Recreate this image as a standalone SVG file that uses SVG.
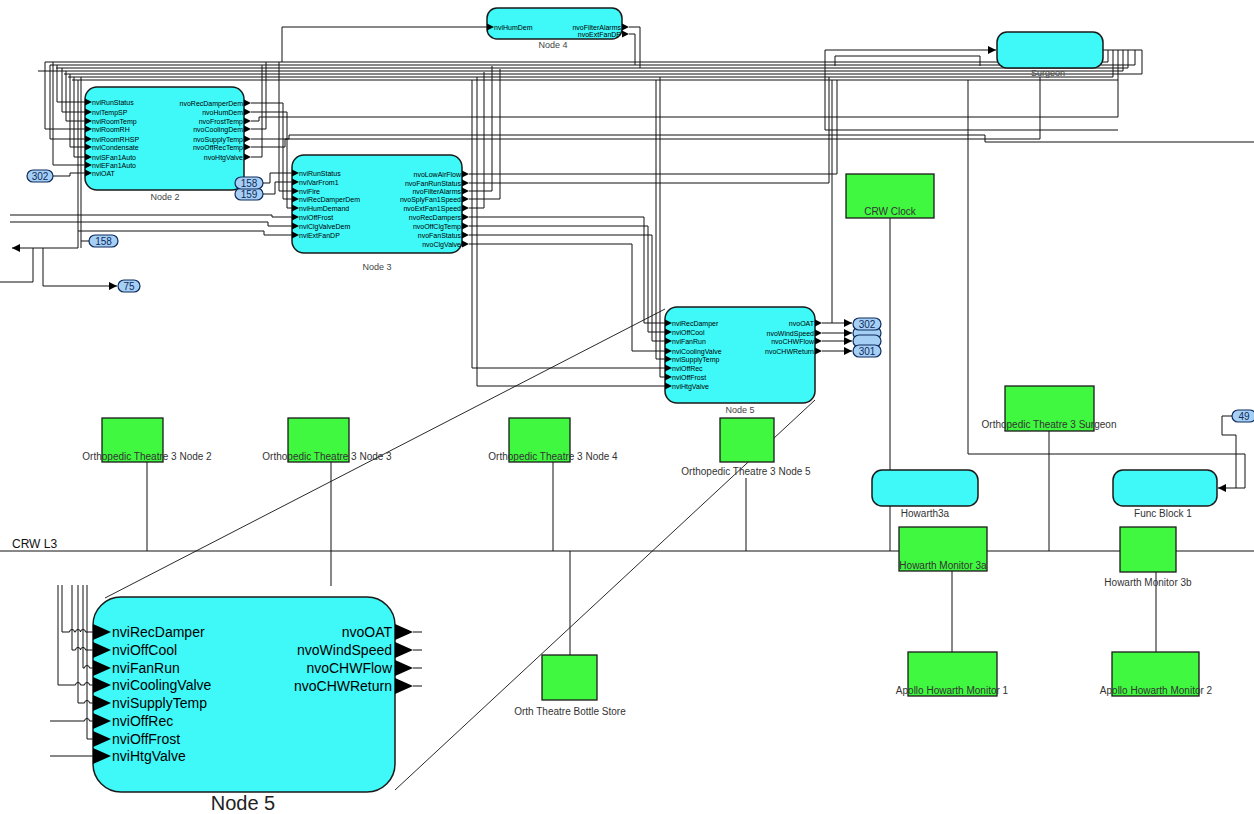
<svg xmlns="http://www.w3.org/2000/svg" width="1254" height="814" viewBox="0 0 1254 814">
<defs>
<style>
.w{fill:none;stroke:#111;stroke-width:1}
.cy{fill:#3ff8f8;stroke:#1a1a1a;stroke-width:1.5}
.gr{fill:#40f840;stroke:#1a1a1a;stroke-width:1.3}
.pt{font-family:"Liberation Sans",Arial,sans-serif;font-size:7px;fill:#000}
.pr{font-family:"Liberation Sans",Arial,sans-serif;font-size:7px;fill:#000;text-anchor:end}
.zt{font-family:"Liberation Sans",Arial,sans-serif;font-size:14px;fill:#000}
.zr{font-family:"Liberation Sans",Arial,sans-serif;font-size:14px;fill:#000;text-anchor:end}
.lb{font-family:"Liberation Sans",Arial,sans-serif;font-size:10px;fill:#333;text-anchor:middle}
.nl{font-family:"Liberation Sans",Arial,sans-serif;font-size:9px;fill:#444;text-anchor:middle}
.bb{fill:#a6cff5;stroke:#0d2b5c;stroke-width:1.2}
.bt{font-family:"Liberation Sans",Arial,sans-serif;font-size:10px;fill:#0d2b5c;text-anchor:middle}
.zl{fill:none;stroke:#111;stroke-width:0.9}
</style>
<polygon id="pi" points="0,-3.5 7,0 0,3.5" fill="#000"/>
<polygon id="pz" points="0,-8 18,0 0,8" fill="#000"/>
<marker id="ar" viewBox="0 0 10 10" refX="10" refY="5" markerWidth="8" markerHeight="8" markerUnits="userSpaceOnUse" orient="auto"><path d="M0,0L10,5L0,10z" fill="#000"/></marker>
</defs>
<rect width="1254" height="814" fill="#fff"/>

<g id="connectors" class="w">
<path d="M45,62 H1108"/>
<path d="M50,65 H1135"/>
<path d="M56,68 H1128"/>
<path d="M38,71 H1123"/>
<path d="M64,74 H1142"/>
<path d="M68,77 H1113"/>
<path d="M72,80 H1118"/>
<path d="M57,65 V102 H85"/>
<path d="M62,68 V112 H85"/>
<path d="M66,71 V121 H85"/>
<path d="M45,62 V129 H85"/>
<path d="M50,65 V139 H85"/>
<path d="M70,74 V147 H85"/>
<path d="M74,77 V157 H85"/>
<path d="M53,62 V165 H85"/>
<path d="M53,176 H70 V173 H85"/>
<path d="M78,80 V248"/>
<path d="M81,77 V248"/>
<path d="M89,241 H81"/>
<path d="M78,248 H12" marker-end="url(#ar)"/>
<path d="M33,248 V282 H0"/>
<path d="M43,248 V286 H117" marker-end="url(#ar)"/>
<path d="M263,183 H270 V173 H292"/>
<path d="M263,194 H275 V182 H292"/>
<path d="M279,62 V191 H292"/>
<path d="M251,103 H283 V199 H292"/>
<path d="M251,112 H287 V208 H292"/>
<path d="M10,215 H272 V217 H292"/>
<path d="M10,222 H268 V226 H292"/>
<path d="M78,231 H264 V235 H292"/>
<path d="M251,121 H259 V117 H1118 V80"/>
<path d="M251,129 H266 V62"/>
<path d="M251,139 H289 V135 H985 V142 H1254"/>
<path d="M251,147 H285 V139 H1040 V77"/>
<path d="M251,157 H262 V65"/>
<path d="M282,62 V27 H487"/>
<path d="M629,27 H640 V68"/>
<path d="M629,34 H635 V65"/>
<path d="M469,174 H837 V80"/>
<path d="M469,183 H829 V77"/>
<path d="M469,191 H492 V66"/>
<path d="M469,199 H500 V69"/>
<path d="M469,208 H484 V72"/>
<path d="M469,217 H644 V323 H665"/>
<path d="M469,226 H648 V332 H665"/>
<path d="M469,235 H652 V341 H665"/>
<path d="M469,244 H632 V351 H665"/>
<path d="M656,80 V359 H665"/>
<path d="M660,77 V377 H665"/>
<path d="M472,80 V368 H665"/>
<path d="M477,77 V386 H665"/>
<path d="M822,323 H852" marker-end="url(#ar)"/>
<path d="M822,333 H852" marker-end="url(#ar)"/>
<path d="M822,341 H852" marker-end="url(#ar)"/>
<path d="M822,351 H852" marker-end="url(#ar)"/>
<path d="M832,80 V323"/>
<path d="M825,130 V50 H996" marker-end="url(#ar)"/>
<path d="M825,130 H1118"/>
<path d="M835,66 V56 H980 V66"/>
<path d="M1103,50 H1142 V74"/>
<path d="M1108,50 V62"/>
<path d="M1113,50 V77"/>
<path d="M1118,50 V80"/>
<path d="M1123,50 V71"/>
<path d="M1128,50 V68"/>
<path d="M1135,50 V65"/>
<path d="M968,80 V454 H1245 V488 H1218" marker-end="url(#ar)"/>
<path d="M1232,416 H1222 V435 H1236 V488"/>
<path d="M0,551 H1254"/>
<path d="M890,218 V551"/>
<path d="M1049,431 V551"/>
<path d="M147,462 V551"/>
<path d="M331,462 V586"/>
<path d="M553,462 V551"/>
<path d="M746,478 V551"/>
<path d="M570,551 V655"/>
<path d="M952,571 V652"/>
<path d="M1156,572 V652"/>
<path d="M62,585 V632 H69.5 a2.5,2.5 0 0 1 5,0 H75.5 a2.5,2.5 0 0 1 5,0 H80.5 a2.5,2.5 0 0 1 5,0 H93"/>
<path d="M72,585 V650 H75.5 a2.5,2.5 0 0 1 5,0 H80.5 a2.5,2.5 0 0 1 5,0 H93"/>
<path d="M83,585 V668 H84.5 a2.5,2.5 0 0 1 5,0 H93"/>
<path d="M58,585 V685 H75.5 a2.5,2.5 0 0 1 5,0 H84.5 a2.5,2.5 0 0 1 5,0 H93"/>
<path d="M78,585 V703 H84.5 a2.5,2.5 0 0 1 5,0 H93"/>
<path d="M50,721 H84.5 a2.5,2.5 0 0 1 5,0 H93"/>
<path d="M87,585 V739 H93"/>
<path d="M50,756 H93"/>
<path d="M413,632 H422 M413,650 H422 M413,668 H422 M413,686 H422"/>
</g>

<g id="zoom-lines" class="zl">
<path d="M665,309 L105,598"/>
<path d="M815,400 L395,790"/>
</g>

<g id="node2">
<rect class="cy" x="85" y="87" width="159" height="103" rx="12"/>
<use href="#pi" x="85" y="102"/><use href="#pi" x="85" y="112"/><use href="#pi" x="85" y="121"/><use href="#pi" x="85" y="129"/><use href="#pi" x="85" y="139"/><use href="#pi" x="85" y="147"/><use href="#pi" x="85" y="157"/><use href="#pi" x="85" y="165"/><use href="#pi" x="85" y="173"/>
<use href="#pi" x="244" y="103"/><use href="#pi" x="244" y="112"/><use href="#pi" x="244" y="121"/><use href="#pi" x="244" y="129"/><use href="#pi" x="244" y="139"/><use href="#pi" x="244" y="147"/><use href="#pi" x="244" y="157"/>
<text class="pt" x="92" y="104.5">nviRunStatus</text>
<text class="pt" x="92" y="114.5">nviTempSP</text>
<text class="pt" x="92" y="123.5">nviRoomTemp</text>
<text class="pt" x="92" y="131.5">nviRoomRH</text>
<text class="pt" x="92" y="141.5">nviRoomRHSP</text>
<text class="pt" x="92" y="149.5">nviCondensate</text>
<text class="pt" x="92" y="159.5">nviSFan1Auto</text>
<text class="pt" x="92" y="167.5">nviEFan1Auto</text>
<text class="pt" x="92" y="175.5">nviOAT</text>
<text class="pr" x="243" y="105.5">nvoRecDamperDem</text>
<text class="pr" x="243" y="114.5">nvoHumDem</text>
<text class="pr" x="243" y="123.5">nvoFrostTemp</text>
<text class="pr" x="243" y="131.5">nvoCoolingDem</text>
<text class="pr" x="243" y="141.5">nvoSupplyTemp</text>
<text class="pr" x="243" y="149.5">nvoOffRecTemp</text>
<text class="pr" x="243" y="159.5">nvoHtgValve</text>
<text class="nl" x="165" y="200">Node 2</text>
</g>

<g id="node3">
<rect class="cy" x="292" y="155" width="170" height="98" rx="12"/>
<use href="#pi" x="292" y="173"/><use href="#pi" x="292" y="182"/><use href="#pi" x="292" y="191"/><use href="#pi" x="292" y="199"/><use href="#pi" x="292" y="208"/><use href="#pi" x="292" y="217"/><use href="#pi" x="292" y="226"/><use href="#pi" x="292" y="235"/>
<use href="#pi" x="462" y="174"/><use href="#pi" x="462" y="183"/><use href="#pi" x="462" y="191"/><use href="#pi" x="462" y="199"/><use href="#pi" x="462" y="208"/><use href="#pi" x="462" y="217"/><use href="#pi" x="462" y="226"/><use href="#pi" x="462" y="235"/><use href="#pi" x="462" y="244"/>
<text class="pt" x="299" y="175.5">nviRunStatus</text>
<text class="pt" x="299" y="184.5">nviVarFrom1</text>
<text class="pt" x="299" y="193.5">nviFire</text>
<text class="pt" x="299" y="201.5">nviRecDamperDem</text>
<text class="pt" x="299" y="210.5">nviHumDemand</text>
<text class="pt" x="299" y="219.5">nviOffFrost</text>
<text class="pt" x="299" y="228.5">nviClgValveDem</text>
<text class="pt" x="299" y="237.5">nviExtFanDP</text>
<text class="pr" x="461" y="176.5">nvoLowAirFlow</text>
<text class="pr" x="461" y="185.5">nvoFanRunStatus</text>
<text class="pr" x="461" y="193.5">nvoFilterAlarms</text>
<text class="pr" x="461" y="201.5">nvoSplyFan1Speed</text>
<text class="pr" x="461" y="210.5">nvoExtFan1Speed</text>
<text class="pr" x="461" y="219.5">nvoRecDampers</text>
<text class="pr" x="461" y="228.5">nvoOffClgTemp</text>
<text class="pr" x="461" y="237.5">nvoFanStatus</text>
<text class="pr" x="461" y="246.5">nvoClgValve</text>
<text class="nl" x="377" y="270">Node 3</text>
</g>

<g id="node4">
<rect class="cy" x="487" y="8" width="135" height="31" rx="10"/>
<use href="#pi" x="487" y="27"/>
<use href="#pi" x="622" y="27"/><use href="#pi" x="622" y="34"/>
<text class="pt" x="494" y="29.5">nviHumDem</text>
<text class="pr" x="621" y="29.5">nvoFilterAlarms</text>
<text class="pr" x="621" y="36.5">nvoExtFanDP</text>
<text class="nl" x="553" y="48">Node 4</text>
</g>

<g id="surgeon">
<rect class="cy" x="997" y="32" width="106" height="36" rx="10"/>
<text class="nl" x="1048" y="76">Surgeon</text>
</g>

<g id="node5">
<rect class="cy" x="665" y="307" width="150" height="96" rx="12"/>
<use href="#pi" x="665" y="323"/><use href="#pi" x="665" y="332"/><use href="#pi" x="665" y="341"/><use href="#pi" x="665" y="351"/><use href="#pi" x="665" y="359"/><use href="#pi" x="665" y="368"/><use href="#pi" x="665" y="377"/><use href="#pi" x="665" y="386"/>
<use href="#pi" x="815" y="323"/><use href="#pi" x="815" y="333"/><use href="#pi" x="815" y="341"/><use href="#pi" x="815" y="351"/>
<text class="pt" x="672" y="325.5">nviRecDamper</text>
<text class="pt" x="672" y="334.5">nviOffCool</text>
<text class="pt" x="672" y="343.5">nviFanRun</text>
<text class="pt" x="672" y="353.5">nviCoolingValve</text>
<text class="pt" x="672" y="361.5">nviSupplyTemp</text>
<text class="pt" x="672" y="370.5">nviOffRec</text>
<text class="pt" x="672" y="379.5">nviOffFrost</text>
<text class="pt" x="672" y="388.5">nviHtgValve</text>
<text class="pr" x="814" y="325.5">nvoOAT</text>
<text class="pr" x="814" y="335.5">nvoWindSpeed</text>
<text class="pr" x="814" y="343.5">nvoCHWFlow</text>
<text class="pr" x="814" y="353.5">nvoCHWReturn</text>
<text class="nl" x="740" y="413">Node 5</text>
</g>

<g id="node5-zoom">
<rect class="cy" x="93" y="597" width="302" height="195" rx="28"/>
<use href="#pz" x="93" y="632"/><use href="#pz" x="93" y="650"/><use href="#pz" x="93" y="668"/><use href="#pz" x="93" y="685"/><use href="#pz" x="93" y="703"/><use href="#pz" x="93" y="721"/><use href="#pz" x="93" y="739"/><use href="#pz" x="93" y="756"/>
<use href="#pz" x="395" y="632"/><use href="#pz" x="395" y="650"/><use href="#pz" x="395" y="668"/><use href="#pz" x="395" y="686"/>
<text class="zt" x="112" y="637">nviRecDamper</text>
<text class="zt" x="112" y="655">nviOffCool</text>
<text class="zt" x="112" y="673">nviFanRun</text>
<text class="zt" x="112" y="690">nviCoolingValve</text>
<text class="zt" x="112" y="708">nviSupplyTemp</text>
<text class="zt" x="112" y="726">nviOffRec</text>
<text class="zt" x="112" y="744">nviOffFrost</text>
<text class="zt" x="112" y="761">nviHtgValve</text>
<text class="zr" x="392" y="637">nvoOAT</text>
<text class="zr" x="392" y="655">nvoWindSpeed</text>
<text class="zr" x="392" y="673">nvoCHWFlow</text>
<text class="zr" x="392" y="691">nvoCHWReturn</text>
<text x="243" y="810" font-family="Liberation Sans, Arial, sans-serif" font-size="20" fill="#222" text-anchor="middle">Node 5</text>
</g>

<g id="bubbles">
<rect class="bb" x="27" y="170" width="26" height="12" rx="6"/><text class="bt" x="40" y="179.5">302</text>
<rect class="bb" x="235" y="188" width="28" height="12" rx="6"/><text class="bt" x="249" y="197.5">159</text>
<rect class="bb" x="235" y="177" width="28" height="12" rx="6"/><text class="bt" x="249" y="186.5">158</text>
<rect class="bb" x="89" y="235" width="29" height="12" rx="6"/><text class="bt" x="103.5" y="244.5">158</text>
<rect class="bb" x="118" y="280" width="22" height="12" rx="6"/><text class="bt" x="129" y="289.5">75</text>
<rect class="bb" x="853" y="327" width="28" height="12" rx="6"/>
<rect class="bb" x="853" y="335" width="28" height="12" rx="6"/>
<rect class="bb" x="853" y="318" width="28" height="12" rx="6"/><text class="bt" x="867" y="327.5">302</text>
<rect class="bb" x="853" y="345" width="28" height="12" rx="6"/><text class="bt" x="867" y="354.5">301</text>
<rect class="bb" x="1232" y="410" width="24" height="12" rx="6"/><text class="bt" x="1244" y="419.5">49</text>
</g>

<g id="crw-clock"><rect class="gr" x="846" y="174" width="88" height="44"/><text class="lb" x="890" y="215">CRW Clock</text></g>
<g id="ot3-node2"><rect class="gr" x="102" y="418" width="61" height="44"/><text class="lb" x="147" y="460">Orthopedic Theatre 3 Node 2</text></g>
<g id="ot3-node3"><rect class="gr" x="288" y="418" width="61" height="44"/><text class="lb" x="327" y="460">Orthopedic Theatre 3 Node 3</text></g>
<g id="ot3-node4"><rect class="gr" x="509" y="418" width="61" height="44"/><text class="lb" x="553" y="460">Orthopedic Theatre 3 Node 4</text></g>
<g id="ot3-node5"><rect class="gr" x="720" y="418" width="54" height="44"/><text class="lb" x="746" y="475">Orthopedic Theatre 3 Node 5</text></g>
<g id="ot3-surgeon"><rect class="gr" x="1005" y="386" width="89" height="45"/><text class="lb" x="1049" y="428">Orthopedic Theatre 3 Surgeon</text></g>
<g id="howarth3a"><rect class="cy" x="872" y="470" width="106" height="36" rx="10"/><text class="lb" x="925" y="517">Howarth3a</text></g>
<g id="funcblock1"><rect class="cy" x="1113" y="470" width="104" height="36" rx="10"/><text class="lb" x="1163" y="517">Func Block 1</text></g>
<g id="howarth-mon-3a"><rect class="gr" x="899" y="527" width="88" height="44"/><text class="lb" x="943" y="569">Howarth Monitor 3a</text></g>
<g id="howarth-mon-3b"><rect class="gr" x="1120" y="527" width="56" height="45"/><text class="lb" x="1148" y="586">Howarth Monitor 3b</text></g>
<g id="apollo1"><rect class="gr" x="908" y="652" width="89" height="44"/><text class="lb" x="952" y="694">Apollo Howarth Monitor 1</text></g>
<g id="apollo2"><rect class="gr" x="1112" y="652" width="87" height="44"/><text class="lb" x="1156" y="694">Apollo Howarth Monitor 2</text></g>
<g id="bottle-store"><rect class="gr" x="542" y="655" width="55" height="45"/><text class="lb" x="570" y="715">Orth Theatre Bottle Store</text></g>
<text x="12" y="548" font-family="Liberation Sans, Arial, sans-serif" font-size="12" fill="#111">CRW L3</text>
</svg>
